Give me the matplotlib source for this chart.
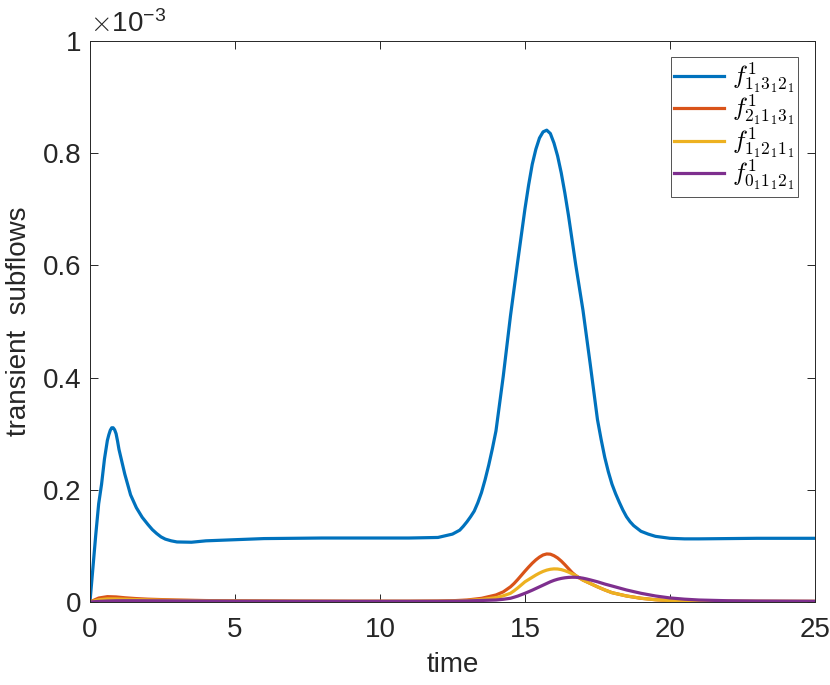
import numpy as np
import matplotlib
matplotlib.use("Agg")
import matplotlib.pyplot as plt
from matplotlib.ticker import FuncFormatter

plt.rcParams["font.family"] = ["Liberation Sans", "DejaVu Sans"]
plt.rcParams["mathtext.fontset"] = "cm"

# values are in units of 1e-3
t_blue = [0, 0.1, 0.2, 0.3, 0.4, 0.5, 0.6, 0.65, 0.7, 0.75, 0.8, 0.85, 0.9, 0.95,
          1.0, 1.1, 1.2, 1.4, 1.6, 1.8, 2.0, 2.15, 2.3, 2.45, 2.6, 2.8, 3.0, 3.5,
          4, 5, 6, 7, 8, 9, 10, 11, 12, 12.5, 12.75, 12.875, 13, 13.125, 13.25,
          13.375, 13.5, 13.625, 13.75, 13.875, 14, 14.25, 14.5, 14.75, 15,
          15.125, 15.25, 15.375, 15.5, 15.625, 15.75, 15.875, 16, 16.125, 16.25,
          16.375, 16.5, 16.75, 17, 17.25, 17.5, 17.625, 17.75, 17.875, 18,
          18.125, 18.25, 18.375, 18.5, 18.625, 18.75, 18.875, 19, 19.25, 19.5,
          20, 20.5, 21, 22, 23, 24, 25]
f_1312 = [0, 0.06, 0.12, 0.175, 0.21, 0.255, 0.288, 0.298, 0.306, 0.3105, 0.3105,
          0.307, 0.3, 0.287, 0.272, 0.25, 0.228, 0.191, 0.168, 0.151, 0.138,
          0.129, 0.122, 0.116, 0.112, 0.109, 0.107, 0.1065, 0.109, 0.111, 0.113,
          0.1135, 0.114, 0.114, 0.114, 0.114, 0.115, 0.121, 0.128, 0.135, 0.143,
          0.152, 0.162, 0.177, 0.195, 0.218, 0.244, 0.273, 0.305, 0.402, 0.51,
          0.607, 0.701, 0.743, 0.780, 0.807, 0.827, 0.838, 0.841, 0.835, 0.818,
          0.795, 0.765, 0.729, 0.689, 0.601, 0.52, 0.424, 0.325, 0.29, 0.258,
          0.232, 0.21, 0.193, 0.178, 0.164, 0.152, 0.143, 0.136, 0.131, 0.126,
          0.121, 0.117, 0.1135, 0.1125, 0.1125, 0.113, 0.1135, 0.1135, 0.1135]

t_small = [0, 0.3, 0.6, 0.9, 1.2, 1.6, 2, 2.5, 3, 4, 5, 7, 9, 11, 12, 12.5, 13,
           13.5, 14, 14.25,
           14.5, 14.625, 14.75, 14.875, 15, 15.125, 15.25, 15.375, 15.5, 15.625,
           15.75, 15.875, 16, 16.125, 16.25, 16.375, 16.5, 16.625, 16.75, 16.875,
           17, 17.125, 17.25, 17.375, 17.5,
           17.75, 18, 18.5, 19, 19.5, 20, 20.5, 21, 22, 23, 25]
f_2113 = [0, 0.007, 0.0095, 0.009, 0.0075, 0.006, 0.005, 0.0042, 0.0035, 0.0025,
          0.002, 0.0015, 0.0013, 0.0013, 0.0016, 0.0022, 0.0035, 0.0065, 0.0125,
          0.018,
          0.027, 0.033, 0.040, 0.0475, 0.055, 0.0622, 0.069, 0.075, 0.080, 0.0838,
          0.0856, 0.0852, 0.0825, 0.0785, 0.0730, 0.0665, 0.0595, 0.0525, 0.047,
          0.043, 0.039, 0.036, 0.033, 0.030, 0.027,
          0.0215, 0.0166, 0.0107, 0.0066, 0.004, 0.0025, 0.0018, 0.0014, 0.0012,
          0.0011, 0.001]
f_1121 = [0, 0.004, 0.0055, 0.0055, 0.005, 0.0043, 0.0037, 0.0032, 0.0028, 0.0022,
          0.0018, 0.0014, 0.0012, 0.0012, 0.0014, 0.0018, 0.0027, 0.0045, 0.0077,
          0.011,
          0.0155, 0.020, 0.025, 0.0305, 0.036, 0.040, 0.044, 0.048, 0.0515, 0.0545,
          0.0568, 0.0583, 0.059, 0.0588, 0.0577, 0.0558, 0.0533, 0.0503, 0.047,
          0.043, 0.039, 0.036, 0.033, 0.030, 0.027,
          0.0215, 0.0166, 0.0107, 0.0066, 0.004, 0.0025, 0.0018, 0.0014, 0.0012,
          0.0011, 0.001]
f_0112 = [0, 0.001, 0.0017, 0.0021, 0.0022, 0.0022, 0.0021, 0.002, 0.0019, 0.0017,
          0.0015, 0.0013, 0.0012, 0.0012, 0.0013, 0.0015, 0.0019, 0.0027, 0.0035,
          0.0048,
          0.0066, 0.0085, 0.0105, 0.013, 0.0155, 0.0182, 0.021, 0.024, 0.027, 0.030,
          0.033, 0.036, 0.0385, 0.0405, 0.042, 0.0431, 0.0438, 0.0441, 0.044,
          0.0434, 0.0424, 0.041, 0.0394, 0.0377, 0.036,
          0.032, 0.0285, 0.0214, 0.0155, 0.0107, 0.0072, 0.005, 0.0035, 0.0022,
          0.0017, 0.0013]

labels = [r"$f^{1}_{1_1 3_1 2_1}$", r"$f^{1}_{2_1 1_1 3_1}$",
          r"$f^{1}_{1_1 2_1 1_1}$", r"$f^{1}_{0_1 1_1 2_1}$"]
colors = ["#0072BD", "#D95319", "#EDB120", "#7E2F8E"]
axis_col = "#262626"

fig = plt.figure(figsize=(8.3, 6.85), dpi=100)
ax = fig.add_axes([0.1084, 0.1212, 0.8735, 0.819])

ax.plot(t_blue, f_1312, color=colors[0], lw=2.3, label=labels[0])
ax.plot(t_small, f_2113, color=colors[1], lw=2.3, label=labels[1])
ax.plot(t_small, f_1121, color=colors[2], lw=2.3, label=labels[2])
ax.plot(t_small, f_0112, color=colors[3], lw=2.3, label=labels[3])

ax.set_xlim(0, 25)
ax.set_ylim(0, 1)
ax.set_xticks([0, 5, 10, 15, 20, 25])
ax.set_yticks([0, 0.2, 0.4, 0.6, 0.8, 1])
ax.yaxis.set_major_formatter(FuncFormatter(lambda v, p: f"{v:g}"))
ax.tick_params(direction="in", length=6, width=0.7, colors=axis_col,
               labelsize=20, top=True, right=True, pad=6)
ax.tick_params(axis="x", pad=11)
for s in ax.spines.values():
    s.set_color(axis_col)
    s.set_linewidth(0.7)

ax.set_xlabel("time", fontsize=20, color=axis_col, labelpad=6)
ax.set_ylabel("transient  subflows", fontsize=20, color=axis_col, labelpad=8)
ax.text(0.0, 1.005, r"$\times\mathregular{10^{-3}}$", transform=ax.transAxes,
        fontsize=20, color=axis_col, ha="left", va="bottom")

leg = ax.legend(loc="upper right", bbox_to_anchor=(0.9766, 0.9715),
                fontsize=18, frameon=True, fancybox=False,
                edgecolor=axis_col, handlelength=2.0, handletextpad=0.3,
                borderpad=0.15, labelspacing=-0.1, borderaxespad=0.0)
leg.get_frame().set_linewidth(0.7)

fig.savefig("out.png", dpi=100)
